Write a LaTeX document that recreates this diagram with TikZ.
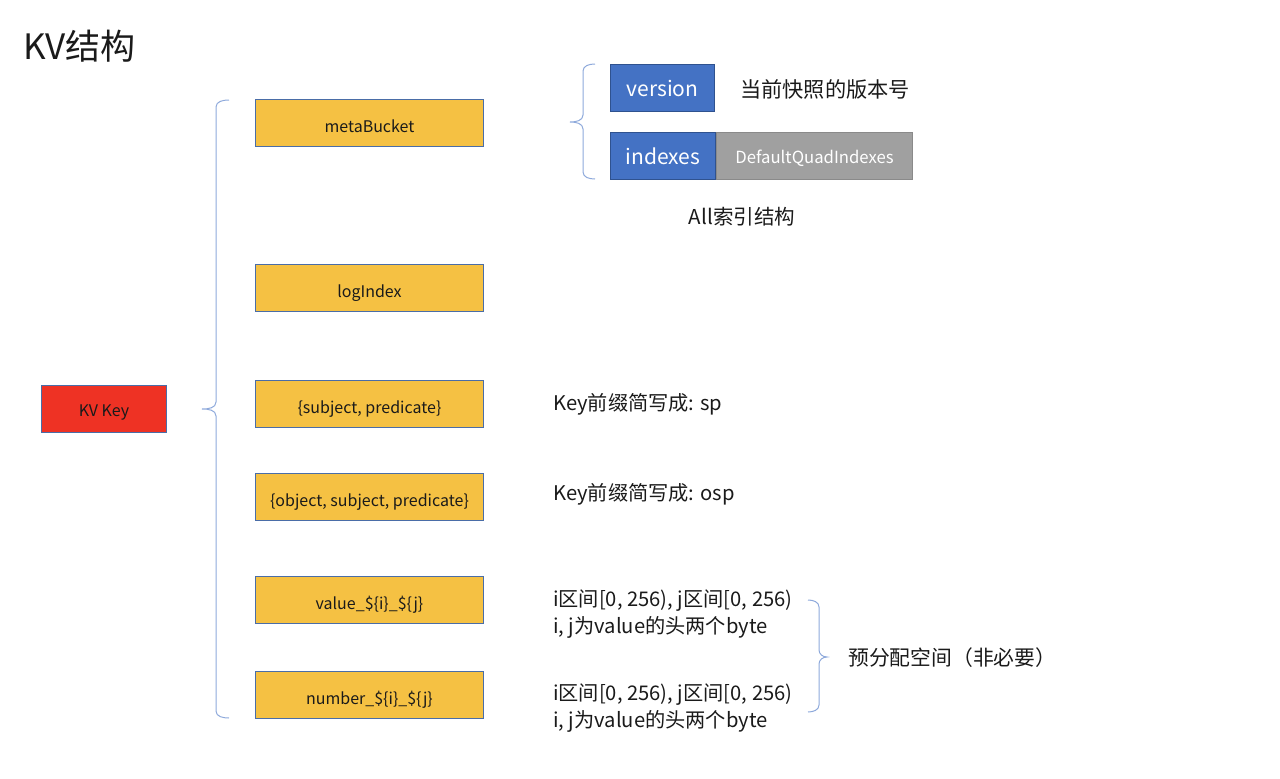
\documentclass[tikz,border=0pt]{standalone}
\usepackage{fontspec}
\setmainfont{Noto Sans CJK SC}
\definecolor{yfill}{HTML}{F5C143}
\definecolor{bborder}{HTML}{4A6DA7}
\definecolor{rfill}{HTML}{EE3224}
\definecolor{bluefill}{HTML}{4472C4}
\definecolor{blueborder}{HTML}{2F528F}
\definecolor{grayfill}{HTML}{A0A0A0}
\definecolor{grayborder}{HTML}{8A8A8A}
\definecolor{bracecol}{HTML}{8EA9DB}
\definecolor{txt}{HTML}{1A1A1A}
\begin{document}
\begin{tikzpicture}[x=1pt,y=-1pt,
  ybox/.style={draw=bborder, fill=yfill, line width=1pt, minimum width=228pt, minimum height=47pt, inner sep=0pt, anchor=north west, text=txt, text height=18pt, text depth=0pt, font=\fontsize{16}{18}\selectfont},
  rbox/.style={draw=bborder, fill=rfill, line width=1pt, minimum width=125pt, minimum height=47pt, inner sep=0pt, anchor=north west, text=txt, text height=15pt, text depth=0pt, font=\fontsize{16}{18}\selectfont},
  bbox/.style={draw=blueborder, fill=bluefill, line width=1pt, minimum width=104pt, minimum height=47pt, inner sep=0pt, anchor=north west, text=white, text height=17pt, text depth=0pt, font=\fontsize{21}{24}\selectfont},
  gbox/.style={draw=grayborder, fill=grayfill, line width=1pt, minimum width=196pt, minimum height=47pt, inner sep=0pt, anchor=north west, text=white, text height=15pt, text depth=0pt, font=\fontsize{16.7}{18}\selectfont},
  lbl/.style={anchor=west, inner sep=0pt, text=txt, font=\fontsize{20.2}{24}\selectfont},
  brace/.style={draw=bracecol, line width=1pt}
]
\useasboundingbox (0,0) rectangle (1280,779);

\node[anchor=west, inner sep=0pt, text=txt, font=\fontsize{35}{40}\selectfont] (title) at (23,46) {KV结构};

\node[rbox] (kv) at (41,385) {KV Key};

\node[ybox] (meta) at (255,99) {metaBucket};
\node[ybox] (log) at (255,264) {logIndex};
\node[ybox] (sp) at (255,380) {\{subject, predicate\}};
\node[ybox] (osp) at (255,473) {\{object, subject, predicate\}};
\node[ybox] (val) at (255,576) {value\_\$\{i\}\_\$\{j\}};
\node[ybox] (num) at (255,671) {number\_\$\{i\}\_\$\{j\}};

\node[bbox] (ver) at (610,64) {version};
\node[bbox, minimum width=105pt] (idx) at (610,132) {indexes};
\node[gbox] (dqi) at (idx.north east) {DefaultQuadIndexes};

\node[lbl, font=\fontsize{21.2}{24}\selectfont] (verl) at (740,89) {当前快照的版本号};
\node[anchor=center, inner sep=0pt, text=txt, font=\fontsize{20.5}{24}\selectfont] (alll) at (742,217) {All索引结构};

\node[lbl] (spl) at (553,404) {Key前缀简写成: sp};
\node[lbl] (ospl) at (553,494) {Key前缀简写成: osp};
\node[lbl] (v1) at (553,601) {i区间[0, 256), j区间[0, 256)};
\node[lbl] (v2) at (553,627) {i, j为value的头两个byte};
\node[lbl] (n1) at (553,695) {i区间[0, 256), j区间[0, 256)};
\node[lbl] (n2) at (553,721) {i, j为value的头两个byte};
\node[lbl, font=\fontsize{20.8}{24}\selectfont] (pre) at (848,658) {预分配空间（非必要）};

% big brace
\path[brace] (229,100) to[out=180,in=90] (216,107) -- (216,402) to[out=-90,in=0] (202,409) to[out=0,in=90] (216,416) -- (216,711) to[out=-90,in=180] (229,718);
% small brace
\path[brace] (595,64) to[out=180,in=90] (583,71) -- (583,115) to[out=-90,in=0] (570,122) to[out=0,in=90] (583,129) -- (583,172) to[out=-90,in=180] (595,179);
% right brace
\path[brace] (808,600) to[out=0,in=90] (819,607) -- (819,650) to[out=-90,in=180] (827,657) to[out=180,in=90] (819,664) -- (819,705) to[out=-90,in=0] (808,712);
\end{tikzpicture}
\end{document}
